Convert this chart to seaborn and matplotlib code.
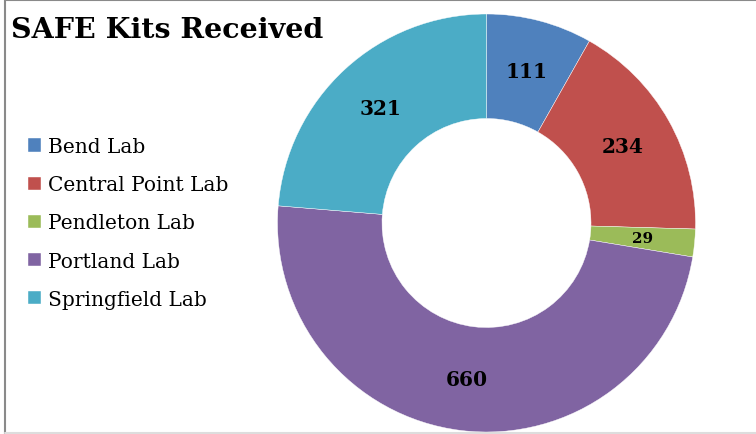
import matplotlib
matplotlib.use("Agg")
import matplotlib.pyplot as plt
from matplotlib.lines import Line2D
import seaborn as sns

# Data
labs = ["Bend Lab", "Central Point Lab", "Pendleton Lab", "Portland Lab", "Springfield Lab"]
kits = [111, 234, 29, 660, 321]
colors = ["#4F81BD", "#C0504D", "#9BBB59", "#8064A2", "#4BACC6"]

sns.set_theme(style="white")
plt.rcParams['font.family'] = ['DejaVu Serif']
plt.rcParams['text.color'] = 'black'

fig = plt.figure(figsize=(7.56, 4.35), dpi=100)
W, H = 756, 435
cx, cy, r = 486.5, 224, 209
ax = fig.add_axes([(cx - r) / W, (H - cy - r) / H, 2 * r / W, 2 * r / H])

wedges, texts, autotexts = ax.pie(
    kits, colors=colors, startangle=90, counterclock=False,
    wedgeprops=dict(width=0.5, edgecolor="white", linewidth=0.3),
    autopct=lambda p: "", pctdistance=0.75)
for at, v in zip(autotexts, kits):
    at.set_text(str(v))
    at.set_fontweight("bold")
    at.set_fontsize(11 if v < 50 else 14.5)
    at.set_color("black")
ax.set_xlim(-1, 1)
ax.set_ylim(-1, 1)

fig.text(11 / W, 1 - 30 / H, "SAFE Kits Received", fontsize=20.5, fontweight="bold",
         va="center", ha="left", color="black")

fig.legend(wedges, labs, loc="center left", bbox_to_anchor=(20 / W, 1 - 224 / H),
           frameon=False, fontsize=14.5, handlelength=0.65, handleheight=0.65,
           handletextpad=0.35, labelspacing=0.95, borderaxespad=0, labelcolor="black")

# chart border
fig.add_artist(Line2D([5 / W, 1], [1 - 0.5 / H, 1 - 0.5 / H], color="#8a8a8a", lw=1.5))
fig.add_artist(Line2D([5 / W, 5 / W], [0, 1], color="#8a8a8a", lw=1.5))
fig.add_artist(Line2D([5 / W, 1], [1.5 / H, 1.5 / H], color="#dddddd", lw=1.5))

fig.savefig("out.png", dpi=100)
